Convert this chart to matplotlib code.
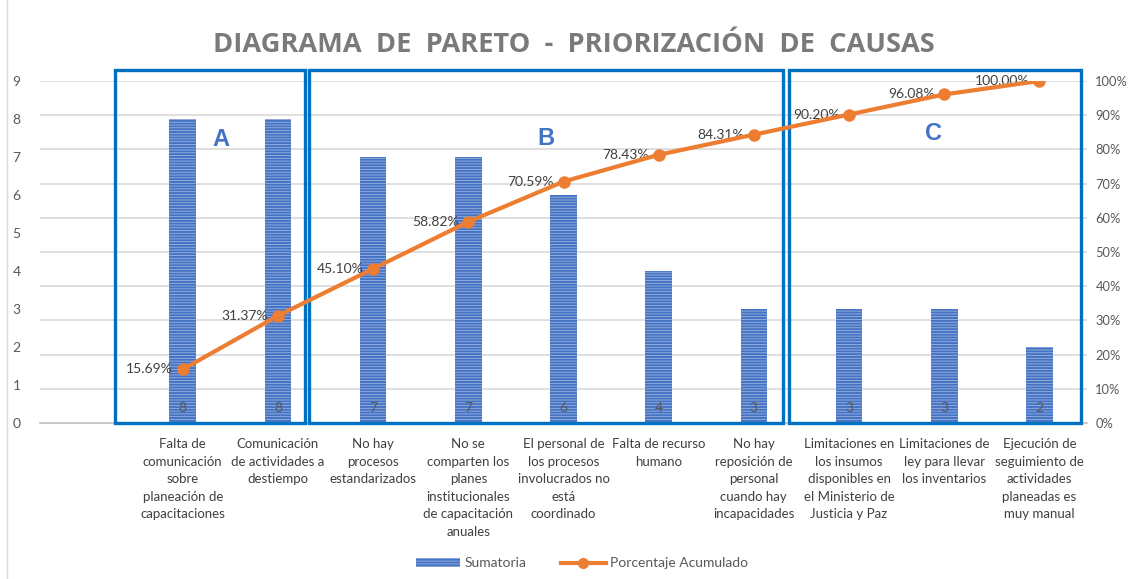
import matplotlib.pyplot as plt
import matplotlib.patches as mpatches
from matplotlib.lines import Line2D
import numpy as np

plt.rcParams['font.family'] = ['Lato', 'DejaVu Sans']
plt.rcParams['hatch.linewidth'] = 1.4

# datos
causas = [
    "Falta de\ncomunicación\nsobre\nplaneación de\ncapacitaciones",
    "Comunicación\nde actividades a\ndestiempo",
    "No hay\nprocesos\nestandarizados",
    "No se\ncomparten los\nplanes\ninstitucionales\nde capacitación\nanuales",
    "El personal de\nlos procesos\ninvolucrados no\nestá\ncoordinado",
    "Falta de recurso\nhumano",
    "No hay\nreposición de\npersonal\ncuando hay\nincapacidades",
    "Limitaciones en\nlos insumos\ndisponibles en\nel Ministerio de\nJusticia y Paz",
    "Limitaciones de\nley para llevar\nlos inventarios",
    "Ejecución de\nseguimiento de\nactividades\nplaneadas es\nmuy manual",
]
sumatoria = [8, 8, 7, 7, 6, 4, 3, 3, 3, 2]
acumulado = [15.69, 31.37, 45.10, 58.82, 70.59, 78.43, 84.31, 90.20, 96.08, 100.00]
grupos = ["A", "B", "C"]

gris = '#595959'
azul = '#4472C4'
naranja = '#ED7D31'

fig = plt.figure(figsize=(11.3, 5.79), dpi=100)
ax = fig.add_axes([40 / 1130, 156 / 579, 1047 / 1130, 342 / 579])
ax2 = ax.twinx()

x = np.arange(len(sumatoria))

# barras con rayas horizontales
ax.bar(x, sumatoria, width=0.28, color='#9db4e0', edgecolor=azul,
       hatch='------', linewidth=0, zorder=2)
for xi, v in zip(x, sumatoria):
    ax.annotate(str(v), (xi, 0), xytext=(0, 10.5), textcoords='offset points',
                ha='center', va='center', fontsize=10, color=gris, zorder=3)

ax.set_xlim(-1.5, 9.5)
ax.set_ylim(0, 9)
ax.set_yticks(range(10))
ax.tick_params(axis='y', length=0, labelsize=10, labelcolor=gris, pad=14)
ax.set_xticks(x)
ax.set_xticklabels(causas, fontsize=9.5, color='#404040', linespacing=1.55)
ax.tick_params(axis='x', length=0, pad=11)
for s in ['top', 'right', 'left']:
    ax.spines[s].set_visible(False)
ax.spines['bottom'].set_color('#bfbfbf')
ax.spines['bottom'].set_linewidth(1.2)
for t in np.arange(0.1, 1.01, 0.1):
    ax.axhline(t * 9, color='#d9d9d9', lw=1.2, zorder=1)

# linea de porcentaje acumulado
ax2.plot(x, np.array(acumulado) / 100, color=naranja, lw=3, marker='o',
         markersize=8, zorder=4)
for xi, p in zip(x, acumulado):
    ax2.annotate(f"{p:.2f}%", (xi, p / 100), xytext=(-7, 0),
                 textcoords='offset points', ha='right', va='center',
                 fontsize=10, color='#404040')
ax2.set_ylim(0, 1)
ticks = np.arange(0, 1.01, 0.1)
ax2.set_yticks(ticks)
ax2.set_yticklabels([f"{int(round(t * 100))}%" for t in ticks])
ax2.tick_params(axis='y', length=0, labelsize=9.3, labelcolor=gris, pad=6)
for s in ax2.spines.values():
    s.set_visible(False)
ax2.patch.set_visible(False)

# recuadros A, B, C
cajas = [(-0.71, 1.28), (1.33, 6.31), (6.37, 9.44)]
letras_x = [0.40, 3.82, 7.89]
letras_y = [7.45, 7.5, 7.63]
for (x0, x1), g, lx, ly in zip(cajas, grupos, letras_x, letras_y):
    r = mpatches.Rectangle((x0, 0), x1 - x0, 9.29, fill=False, edgecolor='#0070C0',
                           lw=2.4, clip_on=False, zorder=5)
    ax.add_patch(r)
    ax.text(lx, ly, g, fontsize=17, fontweight='bold', color=azul,
            ha='center', va='center', family='Liberation Sans')

fig.text(0.508, 0.922, "DIAGRAMA  DE  PARETO  -  PRIORIZACIÓN  DE  CAUSAS",
         ha='center', va='center', fontsize=19.6, fontweight='bold',
         color='#7a7a7a', family='Open Sans')

handles = [
    mpatches.Patch(facecolor='#9db4e0', edgecolor=azul, hatch='------', linewidth=0,
                   label='Sumatoria'),
    Line2D([0], [0], color=naranja, lw=3, marker='o', markersize=7,
           label='Porcentaje Acumulado'),
]
fig.legend(handles=handles, loc='center', bbox_to_anchor=(0.515, 0.027), ncol=2,
           frameon=False, fontsize=10, labelcolor=gris, handlelength=3.2,
           columnspacing=2.5, handletextpad=0.3)

fig.add_artist(mpatches.Rectangle((0.006, -0.01), 1.2, 1.2, transform=fig.transFigure,
                                  fill=False, edgecolor='#d9d9d9', lw=1))

fig.savefig('out.png', dpi=100)
